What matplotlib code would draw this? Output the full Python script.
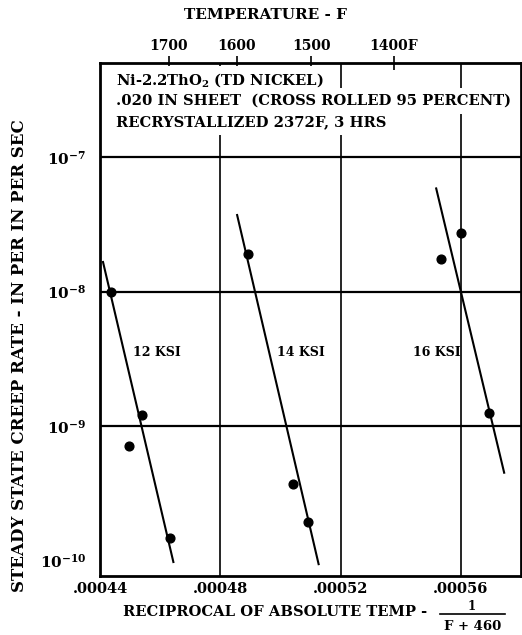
import numpy as np
import matplotlib
matplotlib.use("Agg")
import matplotlib.pyplot as plt
from matplotlib.lines import Line2D

plt.rcParams['font.family'] = ['DejaVu Serif']
plt.rcParams['font.weight'] = 'bold'
plt.rcParams['mathtext.fontset'] = 'custom'
plt.rcParams['mathtext.rm'] = 'DejaVu Serif:bold'
plt.rcParams['mathtext.bf'] = 'DejaVu Serif:bold'
plt.rcParams['mathtext.default'] = 'bf'

# ---- data ----
x_12 = [0.0004438, 0.0004540, 0.0004496, 0.0004633]
y_12 = [1.0e-8, 1.20e-9, 7.1e-10, 1.47e-10]
fit_x_12 = [0.000441, 0.0004644]
fit_y_12 = [1.66e-8, 9.75e-11]

x_14 = [0.0004891, 0.0005043, 0.0005092]
y_14 = [1.90e-8, 3.71e-10, 1.92e-10]
fit_x_14 = [0.0004856, 0.0005127]
fit_y_14 = [3.71e-8, 9.4e-11]

x_16 = [0.0005602, 0.0005535, 0.0005692]
y_16 = [2.75e-8, 1.75e-8, 1.26e-9]
fit_x_16 = [0.0005518, 0.0005744]
fit_y_16 = [5.85e-8, 4.5e-10]

series_labels = ["12 KSI", "14 KSI", "16 KSI"]
label_x = [0.0004509, 0.0004988, 0.000544]
label_y = [3.55e-9, 3.55e-9, 3.55e-9]

x_ticks = [0.00044, 0.00048, 0.00052, 0.00056]
x_ticklabels = [".00044", ".00048", ".00052", ".00056"]
y_ticks = [1e-10, 1e-9, 1e-8, 1e-7]
y_ticklabels = [r"$10^{-10}$", r"$10^{-9}$", r"$10^{-8}$", r"$10^{-7}$"]
top_temps_F = [1700, 1600, 1500, 1400]
top_ticklabels = ["1700", "1600", "1500", "1400F"]

header_lines = [r"Ni-2.2ThO$_{2}$ (TD NICKEL)",
                ".020 IN SHEET  (CROSS ROLLED 95 PERCENT)",
                "RECRYSTALLIZED 2372F, 3 HRS"]

# ---- figure ----
W, H = 522, 635
fig = plt.figure(figsize=(W / 100, H / 100), dpi=100)
ax = fig.add_axes([100 / W, (H - 576) / H, 421 / W, (576 - 63) / H])
ax.set_yscale('log')
ax.set_xlim(0.000441, 0.00058)
ax.set_ylim(10 ** -10.115, 10 ** -6.30)

for s in ax.spines.values():
    s.set_linewidth(2.0)
    s.set_color('black')

# grid
for gx in x_ticks[1:]:
    ax.axvline(gx, color='black', lw=1.2, zorder=1)
for gy in y_ticks[1:]:
    ax.axhline(gy, color='black', lw=1.6, zorder=1)

ax.set_xticks(x_ticks)
ax.set_xticklabels(x_ticklabels, fontsize=10.5, fontweight='bold')
ax.set_yticks(y_ticks)
ax.set_yticklabels(y_ticklabels, fontsize=11)
ax.yaxis.set_minor_locator(matplotlib.ticker.NullLocator())
ax.tick_params(axis='both', length=0, pad=4)
ax.tick_params(axis='y', pad=10)

# series
for xs, ys, fx, fy in [(x_12, y_12, fit_x_12, fit_y_12),
                       (x_14, y_14, fit_x_14, fit_y_14),
                       (x_16, y_16, fit_x_16, fit_y_16)]:
    ax.plot(fx, fy, color='black', lw=1.5, zorder=3, clip_on=True)
    ax.plot(xs, ys, 'o', color='black', ms=6.3, zorder=4)

for lab, lx, ly in zip(series_labels, label_x, label_y):
    ax.text(lx, ly, lab, fontsize=9, fontweight='bold', va='center', ha='left',
            zorder=5)

# header text block
for i, line in enumerate(header_lines):
    fig.text(116 / W, 1 - (80 + i * 21) / H, line, fontsize=10.6, fontweight='bold',
             va='center', ha='left', zorder=6,
             bbox=dict(facecolor='white', edgecolor='none', pad=4))

# top temperature axis
ax2 = ax.twiny()
ax2.set_xlim(ax.get_xlim())
ax2.set_xticks([1.0 / (t + 460) for t in top_temps_F])
ax2.set_xticklabels(top_ticklabels, fontsize=10, fontweight='bold')
ax2.tick_params(axis='x', direction='inout', length=10, width=1.2, pad=2)
for s in ax2.spines.values():
    s.set_visible(False)

fig.text(266 / W, 1 - 15 / H, "TEMPERATURE - F", fontsize=11, fontweight='bold',
         ha='center', va='center')

# y label
fig.text(20 / W, 1 - 356 / H, "STEADY STATE CREEP RATE - IN PER IN PER SEC",
         rotation=90, fontsize=12, fontweight='bold', ha='center', va='center')

# x label with fraction
fig.text(123 / W, 1 - 612 / H, "RECIPROCAL OF ABSOLUTE TEMP -", fontsize=10.6,
         fontweight='bold', ha='left', va='center')
fig.text(472 / W, 1 - 606 / H, "1", fontsize=8.5, fontweight='bold',
         ha='center', va='center')
fig.add_artist(Line2D([440 / W, 505 / W], [1 - 614 / H, 1 - 614 / H],
                      transform=fig.transFigure, color='black', lw=1.2))
fig.text(473 / W, 1 - 626 / H, "F + 460", fontsize=9.5, fontweight='bold',
         ha='center', va='center')

fig.savefig("out.png", dpi=100, facecolor='white')
